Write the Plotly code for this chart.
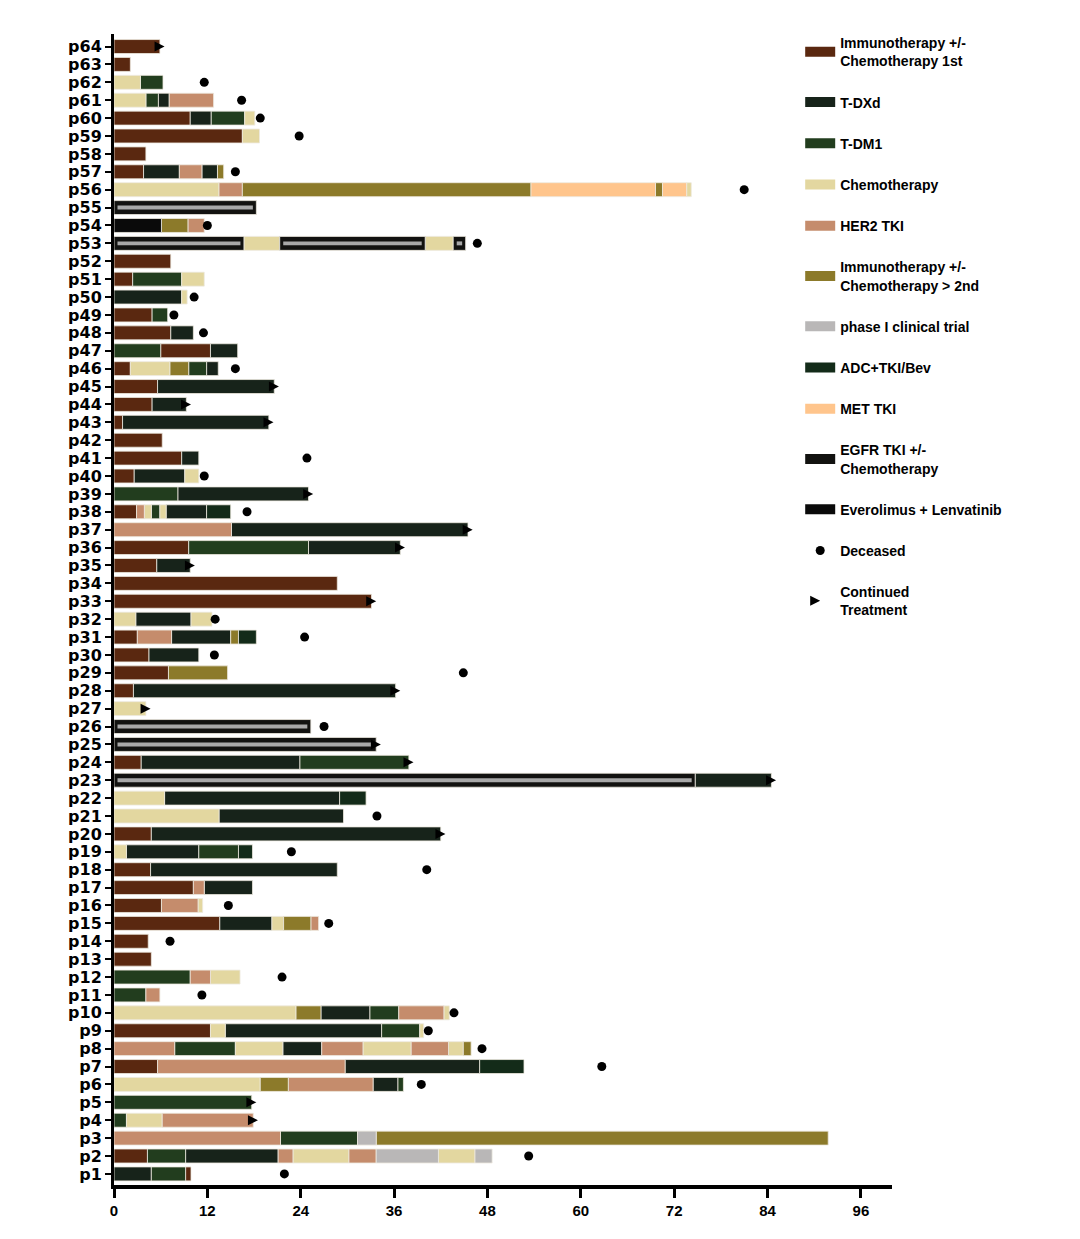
import plotly.graph_objects as go

# patient labels, bottom to top
patients = [f"p{i}" for i in range(1, 65)]

# treatment segments: (patient number, start month, end month)
immuno_1st = [(64, 0, 5.9), (63, 0, 2.1), (60, 0, 9.8), (59, 0, 16.5), (58, 0, 4.1), (57, 0, 3.8),
              (52, 0, 7.3), (51, 0, 2.4), (49, 0, 4.9), (48, 0, 7.3), (47, 6.0, 12.4), (46, 0, 2.1),
              (45, 0, 5.6), (44, 0, 4.9), (43, 0, 1.1), (42, 0, 6.2), (41, 0, 8.7), (40, 0, 2.6),
              (38, 0, 2.9), (36, 0, 9.6), (35, 0, 5.5), (34, 0, 28.7), (33, 0, 33.1), (31, 0, 3.0),
              (30, 0, 4.5), (29, 0, 7.0), (28, 0, 2.5), (24, 0, 3.5), (20, 0, 4.8), (18, 0, 4.7),
              (17, 0, 10.2), (16, 0, 6.1), (15, 0, 13.6), (14, 0, 4.4), (13, 0, 4.8), (9, 0, 12.4),
              (7, 0, 5.6), (2, 0, 4.3), (1, 9.2, 9.9)]
t_dxd = [(61, 5.7, 7.1), (60, 9.8, 12.5), (57, 3.8, 8.4), (57, 11.3, 13.3), (50, 0, 8.7), (48, 7.3, 10.2),
         (47, 12.4, 15.9), (46, 11.9, 13.4), (45, 5.6, 20.6), (44, 4.9, 9.3), (43, 1.1, 19.9),
         (41, 8.7, 10.9), (40, 2.6, 9.1), (39, 8.2, 25.0), (38, 6.7, 11.9), (37, 15.1, 45.5),
         (36, 25.0, 36.8), (35, 5.5, 9.8), (32, 2.8, 9.9), (31, 7.4, 15.0), (30, 4.5, 10.9),
         (28, 2.5, 36.2), (24, 3.5, 23.9), (23, 74.7, 84.5), (22, 6.5, 29.0), (21, 13.5, 29.5),
         (20, 4.8, 42.0), (19, 1.6, 10.9), (18, 4.7, 28.7), (17, 11.6, 17.8), (15, 13.6, 20.3),
         (10, 26.6, 32.9), (9, 14.3, 34.4), (8, 21.7, 26.7), (7, 29.7, 47.0), (6, 33.3, 36.5),
         (2, 9.2, 21.1), (1, 0, 4.8)]
t_dm1 = [(62, 3.4, 6.3), (61, 4.1, 5.7), (60, 12.5, 16.8), (51, 2.4, 8.7), (49, 4.9, 6.9), (47, 0, 6.0),
         (46, 9.6, 11.9), (39, 0, 8.2), (38, 4.8, 5.9), (36, 9.6, 25.0), (24, 23.9, 37.9),
         (19, 10.9, 16.0), (12, 0, 9.8), (11, 0, 4.1), (10, 32.9, 36.6), (9, 34.4, 39.3),
         (8, 7.8, 15.6), (6, 36.5, 37.2), (5, 0, 17.7), (4, 0, 1.6), (3, 21.4, 31.3), (2, 4.3, 9.2),
         (1, 4.8, 9.2)]
chemo = [(62, 0, 3.4), (61, 0, 4.1), (60, 16.8, 18.1), (59, 16.5, 18.7), (56, 0, 13.5), (56, 73.6, 74.2),
         (53, 16.7, 21.3), (53, 40.0, 43.6), (51, 8.7, 11.6), (50, 8.7, 9.4), (46, 2.1, 7.2),
         (40, 9.1, 10.9), (38, 3.9, 4.8), (38, 5.9, 6.7), (32, 0, 2.8), (32, 9.9, 12.6), (27, 0, 4.1),
         (22, 0, 6.5), (21, 0, 13.5), (19, 0, 1.6), (16, 10.8, 11.4), (15, 20.3, 21.8),
         (12, 12.4, 16.2), (10, 0, 23.4), (10, 42.4, 43.1), (9, 12.4, 14.3), (9, 39.3, 39.8),
         (8, 15.6, 21.7), (8, 32.0, 38.2), (8, 43.0, 44.9), (6, 0, 18.8), (4, 1.6, 6.2),
         (2, 23.0, 30.2), (2, 41.7, 46.4)]
her2_tki = [(61, 7.1, 12.8), (57, 8.4, 11.3), (56, 13.5, 16.5), (54, 9.5, 11.6), (38, 2.9, 3.9),
            (37, 0, 15.1), (31, 3.0, 7.4), (17, 10.2, 11.6), (16, 6.1, 10.8), (15, 25.3, 26.3),
            (12, 9.8, 12.4), (11, 4.1, 5.9), (10, 36.6, 42.4), (8, 0, 7.8), (8, 26.7, 32.0),
            (8, 38.2, 43.0), (7, 5.6, 29.7), (6, 22.4, 33.3), (4, 6.2, 17.9), (3, 0, 21.4),
            (2, 21.1, 23.0), (2, 30.2, 33.7)]
immuno_2nd = [(57, 13.3, 14.1), (56, 16.5, 53.6), (56, 69.6, 70.5), (54, 6.1, 9.5), (46, 7.2, 9.6),
              (31, 15.0, 16.0), (29, 7.0, 14.6), (15, 21.8, 25.3), (10, 23.4, 26.6), (8, 44.9, 45.9),
              (6, 18.8, 22.4), (3, 33.7, 91.8)]
phase1 = [(3, 31.3, 33.7), (2, 33.7, 41.7), (2, 46.4, 48.6)]
adc_tki_bev = [(38, 11.9, 15.0), (31, 16.0, 18.3), (22, 29.0, 32.4), (19, 16.0, 17.8), (7, 47.0, 52.7)]
met_tki = [(56, 53.6, 69.6), (56, 70.5, 73.6)]
egfr_tki = [(55, 0, 18.3), (53, 0, 16.7), (53, 21.3, 40.0), (53, 43.6, 45.2), (26, 0, 25.3),
            (25, 0, 33.7), (23, 0, 74.7)]
everolimus_lenv = [(54, 0, 6.1)]

# events: (patient number, month)
deceased = [(62, 11.6), (61, 16.4), (60, 18.8), (59, 23.8), (57, 15.6), (56, 81.0), (54, 12.0), (53, 46.7),
            (50, 10.3), (49, 7.7), (48, 11.5), (46, 15.6), (41, 24.8), (40, 11.6), (38, 17.1), (32, 13.0),
            (31, 24.5), (30, 12.9), (29, 44.9), (26, 27.0), (21, 33.8), (19, 22.8), (18, 40.2),
            (16, 14.7), (15, 27.6), (14, 7.2), (12, 21.6), (11, 11.3), (10, 43.7), (9, 40.4),
            (8, 47.3), (7, 62.7), (6, 39.5), (2, 53.3), (1, 21.9)]
continued = [(64, 5.9), (45, 20.6), (44, 9.3), (43, 19.9), (39, 25.0), (37, 45.5), (36, 36.8), (35, 9.8),
             (33, 33.1), (28, 36.2), (27, 4.1), (25, 33.7), (24, 37.9), (23, 84.5), (20, 42.0),
             (5, 17.7), (4, 17.9)]

x_ticks = [0, 12, 24, 36, 48, 60, 72, 84, 96]

treatments = [
    ("Immunotherapy +/-<br>Chemotherapy 1st", "#5a2810", immuno_1st),
    ("T-DXd", "#17231a", t_dxd),
    ("T-DM1", "#223d1e", t_dm1),
    ("Chemotherapy", "#e3d7a0", chemo),
    ("HER2 TKI", "#c58c6c", her2_tki),
    ("Immunotherapy +/-<br>Chemotherapy > 2nd", "#8c7a2a", immuno_2nd),
    ("phase I clinical trial", "#b9b7b7", phase1),
    ("ADC+TKI/Bev", "#132b19", adc_tki_bev),
    ("MET TKI", "#ffc58c", met_tki),
    ("EGFR TKI +/-<br>Chemotherapy", "#121210", egfr_tki),
    ("Everolimus + Lenvatinib", "#0a0a0a", everolimus_lenv),
]

font = "Liberation Sans"
fig = go.Figure()

for i, (name, color, segs) in enumerate(treatments):
    ys = [p - 1 for p, s, e in segs]
    fig.add_trace(go.Bar(
        y=ys, x=[e - s for p, s, e in segs], base=[s for p, s, e in segs],
        orientation="h", width=0.78, marker=dict(color=color, line=dict(color="#eeeae0", width=0.8)),
        showlegend=False, legendgroup=f"g{i}", hoverinfo="skip"))
    # legend swatch
    fig.add_trace(go.Scatter(x=[None], y=[None], mode="lines", name=name, legendgroup=f"g{i}",
                             line=dict(color=color, width=10)))

# grey core line inside the EGFR TKI bars
fig.add_trace(go.Bar(
    y=[p - 1 for p, s, e in egfr_tki], x=[e - s - 0.9 for p, s, e in egfr_tki],
    base=[s + 0.45 for p, s, e in egfr_tki], orientation="h", width=0.22,
    marker=dict(color="#a8a8a8", line=dict(width=0)), showlegend=False, hoverinfo="skip"))

fig.add_trace(go.Scatter(
    x=[t for p, t in deceased], y=[p - 1 for p, t in deceased], mode="markers", name="Deceased",
    legendgroup="dec", marker=dict(symbol="circle", size=9, color="black")))
fig.add_trace(go.Scatter(
    x=[t + 0.6 for p, t in continued], y=[p - 1 for p, t in continued], mode="markers",
    name="Continued<br>Treatment", legendgroup="cont",
    marker=dict(symbol="arrow-right", size=10, color="black")))

fig.update_layout(
    width=1080, height=1239,
    barmode="overlay",
    plot_bgcolor="white", paper_bgcolor="white",
    margin=dict(l=106, r=196, t=26, b=62),
    font=dict(family=font, color="black", weight="bold"),
    legend=dict(x=0.882, y=1.006, xanchor="left", yanchor="top", traceorder="grouped",
                tracegroupgap=20, font=dict(size=14, family=font, weight="bold"),
                bgcolor="rgba(0,0,0,0)"),
)
fig.update_xaxes(range=[0, 100], tickvals=x_ticks, showgrid=False, zeroline=False,
                 showline=True, linecolor="black", linewidth=4, ticks="outside", ticklen=9,
                 tickwidth=3, tickcolor="black", tickfont=dict(size=15, family=font, weight="bold"))
fig.update_yaxes(range=[-0.62, 63.7], tickvals=list(range(64)), ticktext=patients, showgrid=False,
                 zeroline=False, showline=True, linecolor="black", linewidth=3, ticks="outside",
                 ticklen=6, tickwidth=2, tickcolor="black",
                 tickfont=dict(size=16, family="DejaVu Sans", weight="bold"))

fig.write_html("out.html")
